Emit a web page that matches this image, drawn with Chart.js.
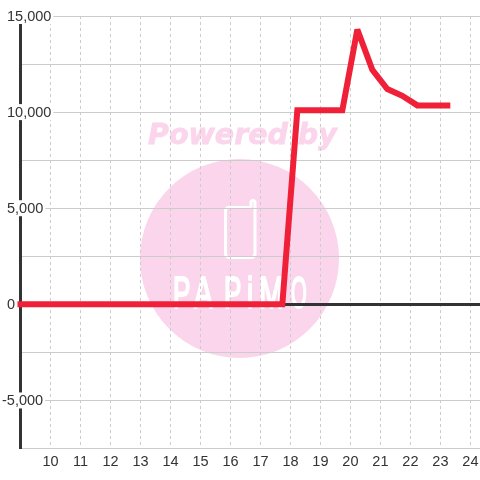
<!DOCTYPE html>
<html>
<head>
<meta charset="utf-8">
<title>Chart</title>
<script src="https://cdn.jsdelivr.net/npm/chart.js@4"></script>
<style>
    html, body { margin: 0; padding: 0; background: #fff; }
    canvas { display: block; }
</style>
</head>
<body>
<canvas id="lineChart" width="480" height="480"></canvas>
<script>
/* ---- DATA ---- */
const hours = [8.73, 9.23, 9.73, 10.23, 10.73, 11.23, 11.73, 12.23, 12.73, 13.23, 13.73, 14.23, 14.73, 15.23, 15.73, 16.23, 16.73, 17.23, 17.73, 18.23, 18.73, 19.23, 19.73, 20.23, 20.73, 21.23, 21.73, 22.23, 22.73, 23.23];
const values = [0, 0, 0, 0, 0, 0, 0, 0, 0, 0, 0, 0, 0, 0, 0, 0, 0, 0, 0, 10100, 10100, 10100, 10100, 14300, 12200, 11200, 10850, 10350, 10350, 10350];
const yLabelValues = [15000, 10000, 5000, 0, -5000];

const TEXT_COLOR = '#333333';
const GRID_COLOR = '#cccccc';
const PINK = '#fbd5ec';

/* ---- WATERMARK (sits behind the grid) ---- */
const watermark = {
    id: 'watermark',
    beforeDraw(chart) {
        const ctx = chart.ctx;
        ctx.save();

        ctx.fillStyle = PINK;
        ctx.beginPath();
        ctx.arc(239.5, 258.5, 99.5, 0, Math.PI * 2);
        ctx.fill();

        ctx.font = 'italic bold 28.5px "DejaVu Sans"';
        ctx.textAlign = 'left';
        ctx.textBaseline = 'alphabetic';
        ctx.strokeStyle = PINK;
        ctx.lineWidth = 0.8;
        ctx.fillText('Powered by', 148, 144);
        ctx.strokeText('Powered by', 148, 144);

        // phone icon
        ctx.strokeStyle = '#ffffff';
        ctx.lineWidth = 3;
        ctx.lineJoin = 'round';
        ctx.beginPath();
        ctx.moveTo(251, 207.5);
        ctx.lineTo(229, 207.5);
        ctx.arcTo(225.5, 207.5, 225.5, 211, 3.5);
        ctx.lineTo(225.5, 254);
        ctx.arcTo(225.5, 257.5, 229, 257.5, 3.5);
        ctx.lineTo(251.5, 257.5);
        ctx.arcTo(255, 257.5, 255, 254, 3.5);
        ctx.lineTo(255, 202.5);
        ctx.arc(253, 202.5, 2, 0, Math.PI, true);
        ctx.lineTo(251, 207.5);
        ctx.stroke();

        // logo letters, tall and narrow
        ctx.fillStyle = '#ffffff';
        ctx.font = '45px "Liberation Sans"';
        ctx.lineWidth = 2.2;
        const logo = [['P', 173, 0.58], ['A', 194, 0.62], ['P', 224, 0.58], ['i', 247, 0.62], ['M', 259, 0.66], ['O', 291, 0.45]];
        logo.forEach(([letter, x, stretch]) => {
            ctx.save();
            ctx.translate(x, 308);
            ctx.scale(stretch, 1);
            ctx.fillText(letter, 0, 0);
            ctx.strokeText(letter, 0, 0);
            ctx.restore();
        });

        ctx.restore();
    },
    // y labels have a white box that cuts the axis and grid, the line stays on top
    beforeDatasetsDraw(chart) {
        const ctx = chart.ctx;
        const y = chart.scales.y;
        ctx.save();
        ctx.font = '14.5px "Liberation Sans"';
        ctx.textAlign = 'left';
        ctx.textBaseline = 'middle';
        yLabelValues.forEach(v => {
            const label = v.toLocaleString('en-US');
            const py = y.getPixelForValue(v);
            const w = ctx.measureText(label).width;
            const left = v < 0 ? 2 : 7;
            ctx.fillStyle = '#ffffff';
            ctx.fillRect(left, py - 8, w + 2, 16);
            ctx.fillStyle = TEXT_COLOR;
            ctx.fillText(label, left, py + 1);
        });
        ctx.restore();
        ctx.miterLimit = 2;
    }
};

/* ---- CHART ---- */
new Chart(document.getElementById('lineChart'), {
    type: 'line',
    plugins: [watermark],
    data: {
        datasets: [{
            data: hours.map((h, i) => ({ x: h, y: values[i] })),
            borderColor: '#ef2038',
            borderWidth: 6,
            borderCapStyle: 'square',
            borderJoinStyle: 'miter',
            pointRadius: 0,
            tension: 0,
            clip: 3
        }]
    },
    options: {
        responsive: false,
        animation: false,
        layout: { padding: { top: 16 } },
        plugins: {
            legend: { display: false },
            tooltip: { enabled: false }
        },
        scales: {
            x: {
                type: 'linear',
                min: 9,
                max: 24.32,
                afterFit: scale => {
                    scale.height = 31.5;
                    scale.paddingRight = 0;
                },
                grid: { color: GRID_COLOR, lineWidth: 1, drawTicks: false },
                border: { display: false, dash: [3, 3] },
                ticks: {
                    stepSize: 1,
                    includeBounds: false,
                    autoSkip: false,
                    maxRotation: 0,
                    padding: 5,
                    color: TEXT_COLOR,
                    font: { family: 'Liberation Sans', size: 14.5 },
                    callback: v => (v === 9 ? '' : String(v))
                }
            },
            y: {
                min: -7500,
                max: 15000,
                afterFit: scale => { scale.width = 20.5; },
                grid: {
                    drawTicks: false,
                    color: ctx => (ctx.tick && ctx.tick.value === 0 ? TEXT_COLOR : GRID_COLOR),
                    lineWidth: ctx => (ctx.tick && ctx.tick.value === 0 ? 3 : 1)
                },
                border: { display: true, color: TEXT_COLOR, width: 3 },
                ticks: { stepSize: 2500, display: false }
            }
        }
    }
});
</script>
</body>
</html>
